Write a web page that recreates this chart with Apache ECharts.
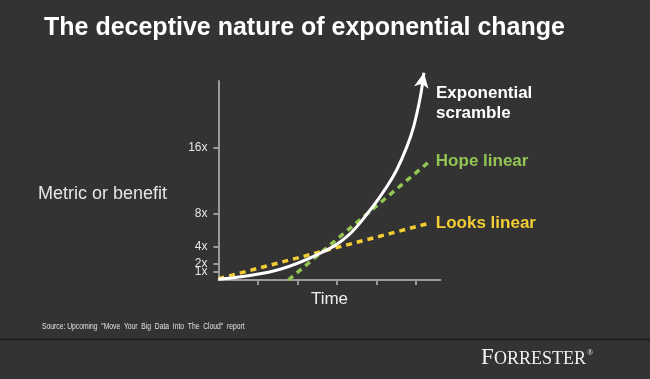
<!DOCTYPE html>
<html>
<head>
<meta charset="utf-8">
<script src="https://cdn.jsdelivr.net/npm/echarts@6/dist/echarts.min.js"></script>
<style>
html,body{margin:0;padding:0;background:#333333;}
#c{width:650px;height:379px;}
</style>
</head>
<body>
<div id="c"></div>
<script>
// ---- data ----
var yTickValues = [2, 4, 8, 16];
var yTickValuesLow = [1];
var xTickValues = [1, 2, 3, 4, 5];
var expX = [0, 0.71, 1.56, 2.57, 3.25, 3.84, 4.26, 4.51, 4.77, 4.94, 5.11, 5.2];
var expY = [0.1, 0.48, 1.29, 3.22, 5.22, 8.44, 11.25, 13.27, 16.08, 18.5, 22.1, 25.0];
var lookX = [0, 5.35];
var lookY = [0.15, 6.87];
var hopeX = [1.77, 5.35];
var hopeY = [0, 14.34];
var seriesNames = ['Exponential scramble', 'Hope linear', 'Looks linear'];

function pairs(xs, ys) { return xs.map(function (x, i) { return [x, ys[i]]; }); }

var expData = pairs(expX, expY);
var lastExp = expData[expData.length - 1];

var chart = echarts.init(document.getElementById('c'));
var axisColor = '#9a9a9a';
var yellow = '#f3cd34';
var green = '#93c552';
var sans = 'Liberation Sans, Arial, sans-serif';

function yAxisFor(values, showLine) {
  return {
    type: 'value', min: 0, max: 24, position: 'left', offset: 0,
    axisLine: { show: showLine, lineStyle: { color: axisColor, width: 2 } },
    axisTick: { show: true, length: 5, customValues: values, lineStyle: { color: axisColor, width: 2 } },
    axisLabel: {
      customValues: values, formatter: '{value}x', margin: 11, hideOverlap: false,
      color: '#e6e6e6', fontSize: 12, fontFamily: sans
    },
    splitLine: { show: false }
  };
}

chart.setOption({
  backgroundColor: '#333333',
  animation: false,
  grid: { left: 218.5, right: 209.5, top: 81, bottom: 99 },
  xAxis: {
    type: 'value', min: 0, max: 5.62,
    axisLine: { lineStyle: { color: axisColor, width: 2 } },
    axisTick: { show: true, length: 5, customValues: xTickValues, lineStyle: { color: axisColor, width: 2 } },
    axisLabel: { show: false },
    splitLine: { show: false },
    name: 'Time', nameLocation: 'middle', nameGap: 11,
    nameTextStyle: { color: '#ededed', fontSize: 17, fontFamily: sans }
  },
  yAxis: [yAxisFor(yTickValues, true), yAxisFor(yTickValuesLow, false)],
  series: [
    {
      name: seriesNames[2], type: 'line', data: pairs(lookX, lookY), symbol: 'none', clip: false,
      lineStyle: { color: yellow, width: 3.5, type: [6, 5] },
      endLabel: { show: true, formatter: seriesNames[2], color: yellow, fontSize: 17, fontWeight: 'bold',
        fontFamily: sans, distance: 6 }
    },
    {
      name: seriesNames[1], type: 'line', data: pairs(hopeX, hopeY), symbol: 'none', clip: false,
      lineStyle: { color: green, width: 3.5, type: [6, 5] },
      endLabel: { show: true, formatter: seriesNames[1], color: green, fontSize: 17, fontWeight: 'bold',
        fontFamily: sans, distance: 6 }
    },
    {
      name: seriesNames[0], type: 'line', data: expData, symbol: 'none', clip: false,
      smooth: 0.4,
      lineStyle: { color: '#ffffff', width: 3 }
    },
    {
      type: 'scatter', data: [lastExp], symbol: 'arrow', symbolSize: [11, 15], symbolRotate: -10,
      clip: false, itemStyle: { color: '#ffffff', opacity: 1 }, silent: true
    }
  ],
  graphic: [
    { type: 'text', x: 44, y: 28.5, style: { text: 'The deceptive nature of exponential change', fill: '#ffffff',
      font: 'bold 25px "Liberation Sans", Arial, sans-serif', verticalAlign: 'middle' } },
    { type: 'text', x: 38, y: 194.5, style: { text: 'Metric or benefit', fill: '#e6e6e6',
      font: '18px "Liberation Sans", Arial, sans-serif', verticalAlign: 'middle' } },
    { type: 'text', x: 436, y: 93, style: { text: 'Exponential', fill: '#ffffff',
      font: 'bold 17px "Liberation Sans", Arial, sans-serif', verticalAlign: 'middle' } },
    { type: 'text', x: 436, y: 113.5, style: { text: 'scramble', fill: '#ffffff',
      font: 'bold 17px "Liberation Sans", Arial, sans-serif', verticalAlign: 'middle' } },
    { type: 'text', x: 42, y: 326.7, scaleX: 0.75, style: { text: 'Source: Upcoming  "Move  Your  Big  Data  Into  The  Cloud"  report', fill: '#e0e0e0',
      font: '9px "Liberation Sans", Arial, sans-serif', verticalAlign: 'middle' } },
    { type: 'line', shape: { x1: 0, y1: 339.5, x2: 650, y2: 339.5 }, style: { stroke: '#202020', lineWidth: 2 } },
    { type: 'text', x: 481, y: 357.5, style: { text: 'F', fill: '#f2f2f2',
      font: '23px "Liberation Serif", "Times New Roman", serif', verticalAlign: 'middle' } },
    { type: 'text', x: 494, y: 359.4, style: { text: 'ORRESTER', fill: '#f2f2f2',
      font: '18px "Liberation Serif", "Times New Roman", serif', verticalAlign: 'middle' } },
    { type: 'text', x: 587, y: 353, style: { text: '®', fill: '#f2f2f2',
      font: '8px "Liberation Serif", serif', verticalAlign: 'middle' } }
  ]
});
</script>
</body>
</html>
